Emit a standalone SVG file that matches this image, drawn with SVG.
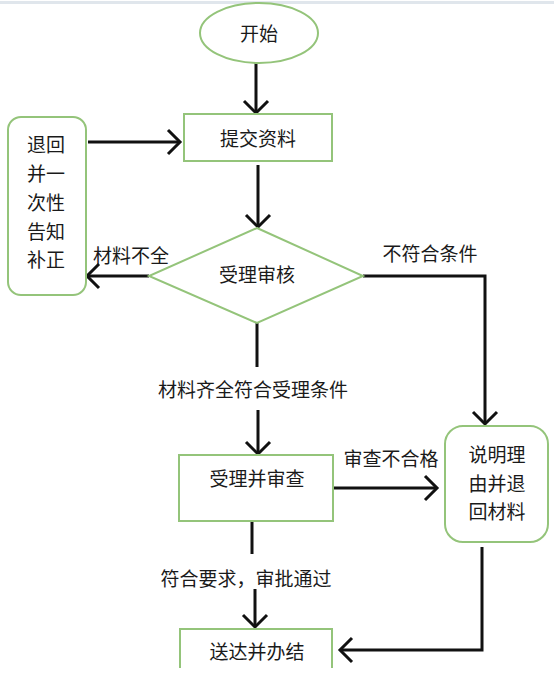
<svg xmlns="http://www.w3.org/2000/svg" width="554" height="683" viewBox="0 0 554 683">
<style>
.n{fill:#fff;stroke:#94c47a;stroke-width:2}
.t{font-family:"Noto Sans CJK SC","Noto Sans",sans-serif;font-size:19px;fill:#1a1a1a;text-anchor:middle;dominant-baseline:central}
.c{fill:none;stroke:#111;stroke-width:3;marker-end:url(#arr)}
.l{fill:none;stroke:#111;stroke-width:3}
</style>
<defs>
<marker id="arr" markerUnits="userSpaceOnUse" markerWidth="18" markerHeight="28" viewBox="0 0 18 28" refX="15" refY="14" orient="auto">
<path d="M3,2 L15,14 L3,26" fill="none" stroke="#111" stroke-width="3"/>
</marker>
</defs>
<rect x="0" y="0" width="554" height="683" fill="#fff"/>
<rect x="0" y="1" width="554" height="3" fill="#e0e6ec"/>
<g id="connectors">
<path class="c" d="M256,62 V113"/>
<path class="c" d="M258,165 V227"/>
<path class="c" d="M88,142 H180"/>
<path class="c" d="M149,276 H87"/>
<path class="c" d="M363,276 H485 V424"/>
<path class="l" d="M257,323 V367"/>
<path class="c" d="M258,410 V454"/>
<path class="c" d="M333,488 H437"/>
<path class="l" d="M252,521 V554"/>
<path class="c" d="M255,589 V627"/>
<path class="c" d="M482,547 V650 H340"/>
</g>
<g id="labels">
<text class="t" x="131" y="254">材料不全</text>
<text class="t" x="430" y="252">不符合条件</text>
<text class="t" x="253" y="388">材料齐全符合受理条件</text>
<text class="t" x="391" y="457">审查不合格</text>
<text class="t" x="246" y="577">符合要求，审批通过</text>
</g>
<g id="start">
<ellipse class="n" cx="259" cy="33" rx="59" ry="30"/>
<text class="t" x="259" y="32">开始</text>
</g>
<g id="submit">
<rect class="n" x="184" y="114" width="148" height="47"/>
<text class="t" x="258" y="137">提交资料</text>
</g>
<g id="notify">
<rect class="n" x="8" y="117" width="78" height="178" rx="13"/>
<text class="t" x="46" y="143">退回</text>
<text class="t" x="46" y="172">并一</text>
<text class="t" x="46" y="201">次性</text>
<text class="t" x="46" y="230">告知</text>
<text class="t" x="46" y="258">补正</text>
</g>
<g id="check">
<polygon class="n" points="257,228 363,276 257,323 149,276"/>
<text class="t" x="257" y="273">受理审核</text>
</g>
<g id="review">
<rect class="n" x="179" y="455" width="154" height="66"/>
<text class="t" x="257" y="477">受理并审查</text>
</g>
<g id="reject">
<rect class="n" x="445" y="426" width="103" height="116" rx="18"/>
<text class="t" x="497" y="453">说明理</text>
<text class="t" x="497" y="482">由并退</text>
<text class="t" x="497" y="510">回材料</text>
</g>
<g id="finish">
<path fill="#fff" stroke="#94c47a" stroke-width="2" d="M180,668 V629 H332 V668"/>
<text class="t" x="257" y="650">送达并办结</text>
</g>
</svg>
